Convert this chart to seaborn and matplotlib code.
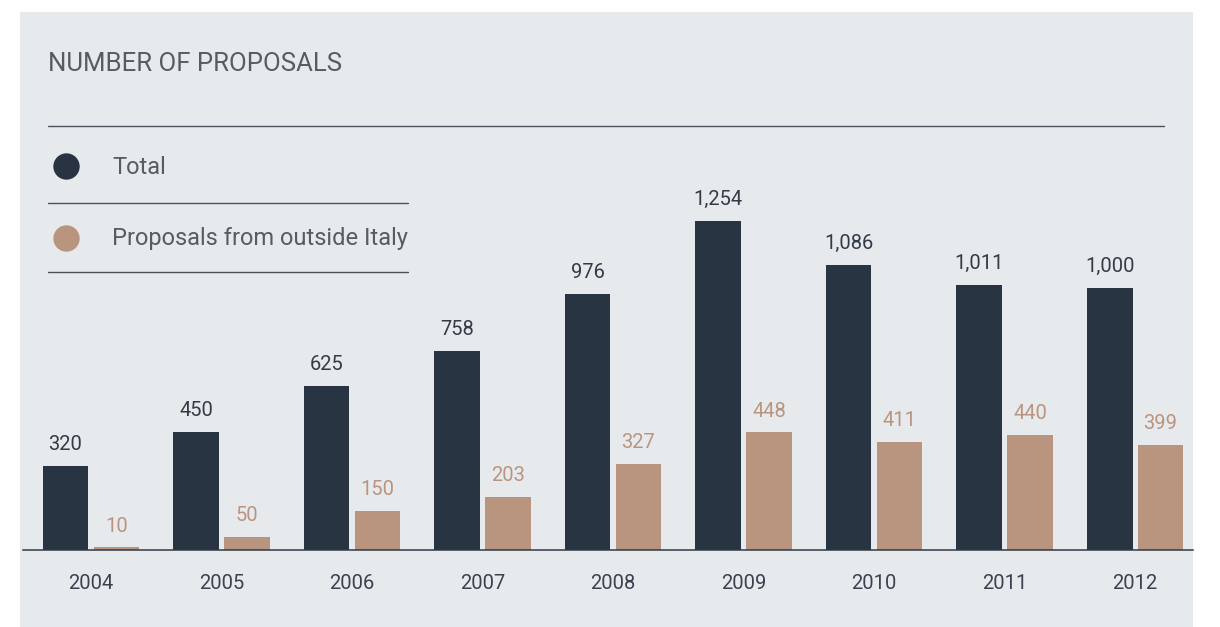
import matplotlib
matplotlib.use("Agg")
import matplotlib.pyplot as plt
import seaborn as sns
import pandas as pd
from matplotlib.patches import Rectangle
from matplotlib.lines import Line2D

years = ["2004", "2005", "2006", "2007", "2008", "2009", "2010", "2011", "2012"]
total = [320, 450, 625, 758, 976, 1254, 1086, 1011, 1000]
outside = [10, 50, 150, 203, 327, 448, 411, 440, 399]
series_names = ["Total", "Proposals from outside Italy"]
title = "NUMBER OF PROPOSALS"

NAVY = "#283442"
TAN = "#b9957f"
PANEL = "#e7eaed"
TEXT = "#575c62"

df = pd.DataFrame({
    "year": years * 2,
    "value": total + outside,
    "series": [series_names[0]] * len(years) + [series_names[1]] * len(years),
})

sns.set_theme(style="white")
plt.rcParams["font.family"] = ["Roboto", "DejaVu Sans"]

W, H = 1220, 627
fig = plt.figure(figsize=(W / 100, H / 100), dpi=100)
fig.patch.set_facecolor("white")

def fx(px):
    return px / W

def fy(py):
    return 1 - py / H

# panel background
fig.patches.append(Rectangle((fx(20), fy(627)), fx(1193) - fx(20), fy(12) - fy(627),
                             transform=fig.transFigure, facecolor=PANEL, edgecolor="none", zorder=-5))

# axes: baseline at y=550, top at y=126, x from 23 to 1193
ax = fig.add_axes([fx(23), fy(550), fx(1193) - fx(23), fy(126) - fy(550)])
ax.set_facecolor("none")
ax.set_zorder(2)

sns.barplot(data=df, x="year", y="value", hue="series", palette=[NAVY, TAN],
            width=0.78, gap=0.1, saturation=1, linewidth=0, ax=ax, legend=False)

ax.set_xlim(-0.521, 8.444)
ax.set_ylim(0, 424 / 0.2624)

for cont, col in zip(ax.containers, ["#333b46", TAN]):
    ax.bar_label(cont, labels=[f"{v:,.0f}" for v in cont.datavalues], padding=8.5,
                 fontsize=14.5, color=col)

for s in ["top", "right", "left"]:
    ax.spines[s].set_visible(False)
ax.spines["bottom"].set_color("#2e3a48")
ax.spines["bottom"].set_linewidth(1.1)
ax.set_yticks([])
ax.set_xlabel("")
ax.set_ylabel("")
ax.tick_params(axis="x", length=0, pad=17.5, labelsize=14.5, labelcolor="#3a4250")

# title
fig.text(fx(48), fy(64), title, fontsize=18.5, color=TEXT, ha="left", va="center")

# lines
def hline(x0, x1, y):
    fig.lines.append(Line2D([fx(x0), fx(x1)], [fy(y), fy(y)], transform=fig.transFigure,
                            color="#4a5058", linewidth=1.0))

hline(48, 1164, 126)
hline(48, 408, 203)
hline(48, 408, 272)

# legend
for (cy, col, name) in [(166, NAVY, series_names[0]), (238, TAN, series_names[1])]:
    fig.lines.append(Line2D([fx(66)], [fy(cy)], transform=fig.transFigure, marker="o",
                            markersize=19, color=col, markeredgewidth=0, linestyle="none"))
    fig.text(fx(112), fy(cy + 1), name, fontsize=17, color=TEXT, ha="left", va="center")

fig.savefig("out.png", dpi=100, facecolor="white")
